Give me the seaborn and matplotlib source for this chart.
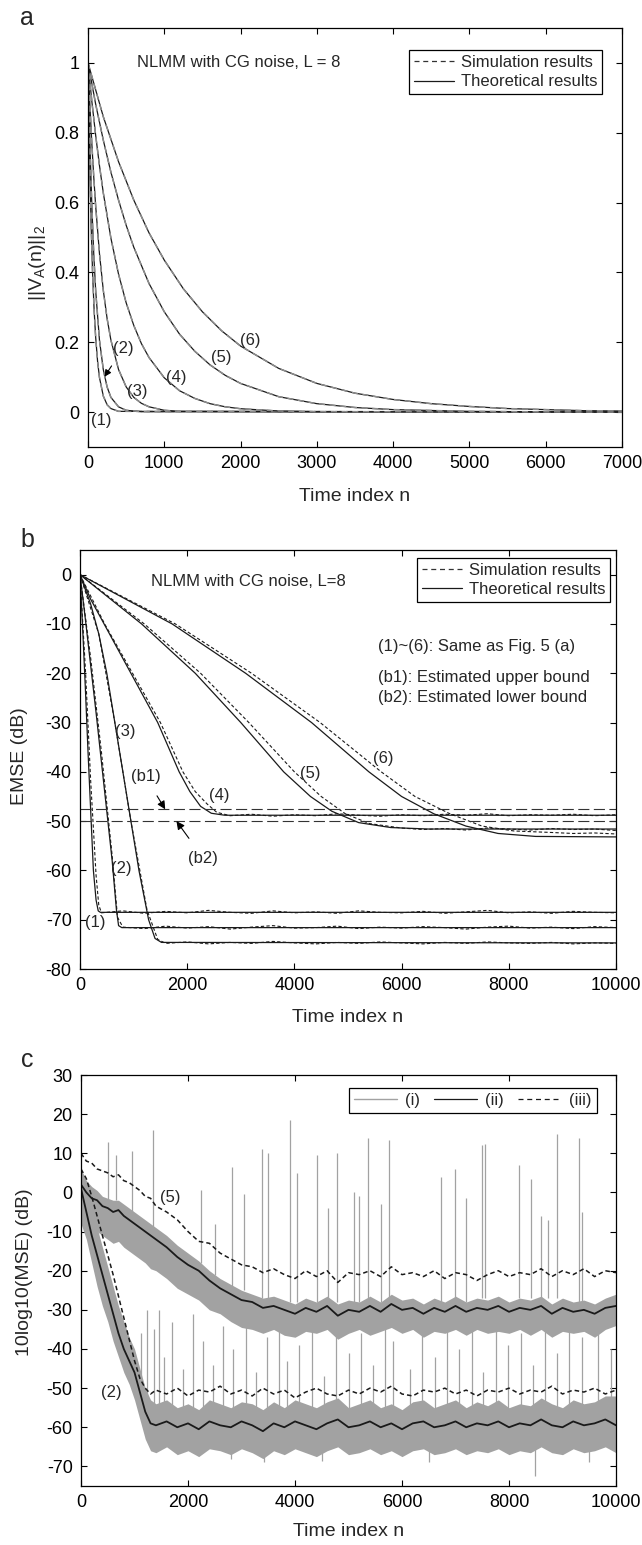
import matplotlib
matplotlib.use("Agg")
import matplotlib.pyplot as plt
from matplotlib.lines import Line2D
import seaborn as sns

sns.set_style("ticks")
plt.rcParams['font.family'] = ['Liberation Sans', 'DejaVu Sans']
plt.rcParams['axes.unicode_minus'] = False
plt.rcParams['mathtext.default'] = 'regular'

# ---------------- panel a: ||V_A(n)||_2, curves (1)..(6) ----------------
n_a1 = [0, 20, 40, 60, 80, 100, 125, 150, 200, 250, 300, 400, 7000]
v_a1 = [1.0, 0.735, 0.54, 0.397, 0.292, 0.215, 0.146, 0.099, 0.046, 0.021, 0.01, 0.002, 0.0]
n_a2 = [0, 25, 50, 75, 100, 150, 200, 250, 300, 400, 500, 700, 7000]
v_a2 = [1.0, 0.769, 0.591, 0.454, 0.349, 0.206, 0.122, 0.072, 0.042, 0.015, 0.005, 0.001, 0.0]
n_a3 = [0, 25, 50, 75, 100, 150, 200, 250, 300, 400, 500, 600, 700, 800, 1000, 1200, 7000]
v_a3 = [1.0, 0.877, 0.769, 0.674, 0.591, 0.454, 0.349, 0.268, 0.206, 0.122, 0.072, 0.042,
        0.025, 0.015, 0.005, 0.002, 0.0]
n_a4 = [0, 50, 100, 150, 200, 300, 400, 500, 600, 700, 800, 1000, 1200, 1400, 1600, 1800,
        2000, 2500, 3000, 7000]
v_a4 = [1.0, 0.89, 0.793, 0.706, 0.628, 0.498, 0.395, 0.313, 0.248, 0.196, 0.156, 0.098,
        0.061, 0.039, 0.024, 0.015, 0.0095, 0.003, 0.001, 0.0]
n_a5 = [0, 100, 200, 300, 400, 500, 600, 800, 1000, 1200, 1400, 1600, 1800, 2000, 2500,
        3000, 3500, 4000, 5000, 6000, 7000]
v_a5 = [1.0, 0.882, 0.779, 0.687, 0.607, 0.535, 0.472, 0.368, 0.287, 0.223, 0.174, 0.135,
        0.105, 0.082, 0.044, 0.024, 0.013, 0.007, 0.002, 0.0006, 0.0]
n_a6 = [0, 200, 400, 600, 800, 1000, 1250, 1500, 1750, 2000, 2500, 3000, 3500, 4000, 4500,
        5000, 5500, 6000, 6500, 7000]
v_a6 = [1.0, 0.846, 0.717, 0.607, 0.513, 0.435, 0.353, 0.287, 0.233, 0.189, 0.125, 0.082,
        0.054, 0.036, 0.024, 0.016, 0.01, 0.007, 0.004, 0.003]

# ---------------- panel b: EMSE (dB) ----------------
th_b_n = [
    [0, 50, 100, 150, 200, 250, 300, 340, 380, 10000],
    [0, 100, 200, 300, 400, 500, 600, 680, 720, 780, 10000],
    [0, 200, 350, 500, 650, 800, 950, 1100, 1280, 1400, 1520, 10000],
    [0, 200, 450, 950, 1450, 1850, 2050, 2250, 2450, 2700, 10000],
    [0, 1150, 2150, 3000, 3800, 4300, 4700, 5200, 5800, 6500, 10000],
    [0, 1720, 3090, 4320, 5390, 6000, 6600, 7200, 7800, 8500, 10000],
]
th_b_v = [
    [0, -11, -23, -36, -48, -60, -66, -68.2, -68.5, -68.5],
    [0, -9, -18.5, -28, -38, -48, -58, -68, -71.2, -71.6, -71.6],
    [0, -6, -12, -20, -30, -40, -50, -60, -70, -73.8, -74.6, -74.7],
    [0, -5, -10, -20, -30, -40, -44, -47, -48.4, -48.8, -48.8],
    [0, -10, -20, -30, -40, -45, -48, -50.3, -51.3, -51.6, -51.6],
    [0, -10, -20, -30, -40, -45, -48.5, -51, -52.5, -53.1, -53.2],
]
floor_n = list(range(400, 10001, 400))
sim_b_ramp_n = [
    [0, 100, 200, 300, 350],
    [0, 200, 400, 600, 700],
    [0, 350, 650, 950, 1250, 1450],
    [0, 460, 980, 1500, 1920, 2150, 2370, 2550],
    [0, 1200, 2250, 3150, 4000, 4500, 4950, 5400],
    [0, 1780, 3200, 4480, 5620, 6250, 6900, 7500, 8100],
]
sim_b_ramp_v = [
    [0, -19, -42, -61, -67],
    [0, -17, -36, -57, -69.5],
    [0, -12, -30, -50, -68, -74],
    [0, -10, -20, -30, -40, -44, -46.5, -48.2],
    [0, -10, -20, -30, -40, -45, -48.5, -50.5],
    [0, -10, -20, -30, -40, -45, -48.5, -51, -52],
]
sim_b_floor_start = [0, 1, 3, 6, 14, 21]   # index into floor_n
sim_b_floor_v = [
    [-68.6, -68.2, -68.7, -68.3, -68.6, -68.1, -68.5, -68.7, -68.2, -68.6, -68.4, -68.7, -68.2,
     -68.5, -68.6, -68.3, -68.7, -68.4, -68.1, -68.6, -68.4, -68.7, -68.3, -68.5, -68.6],
    [-71.5, -71.8, -71.3, -71.7, -71.4, -71.9, -71.5, -71.2, -71.7, -71.6, -71.3, -71.8,
     -71.5, -71.7, -71.4, -71.6, -71.9, -71.5, -71.3, -71.7, -71.5, -71.8, -71.4, -71.6],
    [-74.8, -74.5, -74.9, -74.6, -74.8, -74.4, -74.7, -74.9, -74.6, -74.8, -74.5, -74.7,
     -74.9, -74.6, -74.8, -74.5, -74.7, -74.8, -74.6, -74.9, -74.7, -74.8],
    [-48.9, -48.6, -49.0, -48.7, -48.9, -48.5, -48.8, -49.0, -48.7, -48.9, -48.6, -48.8,
     -48.5, -48.9, -48.7, -48.8, -48.6, -48.9, -48.7],
    [-51.4, -51.7, -51.5, -51.8, -51.4, -51.6, -51.8, -51.5, -51.7, -51.6, -51.9],
    [-52.3, -52.5, -52.4, -52.6],
]
b1_level = -47.6
b2_level = -50.0

# ---------------- panel c: 10log10(MSE) (dB) ----------------
n_c = list(range(0, 1401, 100)) + list(range(1600, 10001, 200))
c5_iii = [10, 8, 7.5, 6, 5.5, 5, 4, 4.5, 3, 2.5, 1.5, 0.5, -1, -1.5, -3.5,
          -5, -7, -10, -12.5, -13, -15.5, -17, -18.5, -19, -20.5,
          -19.5, -21, -22, -20, -21.5, -20, -23, -20.5, -21, -20,
          -21.5, -19, -21, -20.5, -21.5, -20, -22, -20.5, -21, -22.5,
          -21, -20, -21.5, -20.5, -21, -19.5, -21.5, -20, -21, -19.5,
          -21.5, -20, -20.5]
c5_ii = [2, 0, -1.5, -2, -3.5, -4, -5, -4.5, -6, -7, -8, -9, -10, -11, -12,
         -14, -16.5, -18.5, -20, -22.5, -24.5, -26, -27.5, -28, -29.5,
         -29, -30, -31, -29.5, -30.5, -29, -31.5, -30, -30.5, -29,
         -30.5, -28.5, -30, -29.5, -31, -29.5, -30.5, -29, -30.5, -29.5,
         -30, -29, -30.5, -29.5, -30, -29, -31, -29.5, -30.5, -30,
         -31, -29.5, -29]
c5_i_lo = [-6, -8, -9, -10, -11, -12, -13, -12.5, -14, -15, -16, -17, -18, -19.5, -20,
           -22, -24.5, -26, -27.5, -30, -31, -33, -34.5, -35, -36,
           -35, -36.5, -37, -35.5, -36, -35, -37.5, -36, -35, -36.5,
           -35.5, -34.5, -36, -35, -37, -35.5, -36, -35, -36.5, -35,
           -36, -35.5, -36, -35, -36.5, -35, -37, -35.5, -36, -35.5,
           -37, -35, -34]
c5_i_hi = [6, 3, 1.5, 0.5, -1, -1.5, -2, -2, -3, -4, -5, -6, -7, -8, -9,
           -11, -13.5, -15.5, -17.5, -20, -22, -23.5, -25, -26, -27,
           -26.5, -27.5, -28.5, -27, -28, -26.5, -28.5, -27.5, -28, -26.5,
           -28, -26, -27.5, -27, -28.5, -27, -28, -26.5, -28, -27,
           -27.5, -26.5, -28, -27, -27.5, -26.5, -28.5, -27, -28, -27.5,
           -28.5, -27, -26]
c2_iii = [6, 3.5, -1, -6, -11, -16, -21, -26.5, -32, -37.5, -43, -47.5, -50, -51.5, -50.5,
          -51.5, -50, -52, -50.5, -51, -49.5, -51.5, -50.5, -52, -50,
          -51.5, -50.5, -52.5, -51, -50, -51.5, -52, -50.5, -51.5, -50,
          -51, -49.5, -51.5, -52, -50.5, -51, -50, -51.5, -50.5, -52,
          -50.5, -51, -50, -51.5, -50.5, -51, -49.5, -51.5, -50.5, -51,
          -50, -51.5, -50.5]
c2_ii = [1, -5, -11, -16, -21, -26, -31, -36, -40, -43, -46, -51, -56, -59, -59.5,
         -58.5, -60, -59, -60.5, -58.5, -59.5, -60, -58.5, -59.5, -61,
         -59, -60, -58.5, -59.5, -60.5, -59, -58, -60, -59.5, -58.5,
         -60, -59, -60.5, -59, -58.5, -60, -59.5, -58.5, -60, -59,
         -59.5, -58.5, -60, -59, -59.5, -58, -59.5, -60, -58.5, -59.5,
         -59, -58, -59.5]
c2_i_lo = [-8, -12, -18, -24, -29, -33, -38, -42, -46, -49, -53, -58, -63, -66, -66.5,
           -65, -67, -66, -67.5, -65.5, -66, -67, -65.5, -66.5, -68,
           -66, -67, -65.5, -66.5, -67.5, -66, -65, -67, -66.5, -65.5,
           -67, -66, -67.5, -66, -65.5, -67, -66.5, -65.5, -67, -66,
           -66.5, -65.5, -67, -66, -66.5, -65, -66.5, -67, -65.5, -66.5,
           -66, -65, -66.5]
c2_i_hi = [4, 1, -4, -9, -14, -19, -24, -29, -33, -37, -40, -45, -50, -53, -54,
           -53, -55, -54, -55.5, -53, -54, -55, -53.5, -54, -55.5,
           -53.5, -55, -53, -54, -55, -53.5, -52.5, -55, -54, -53,
           -55, -54, -55.5, -53.5, -53, -55, -54, -53, -55, -53.5,
           -54.5, -53, -55, -54, -54.5, -52.5, -54, -55, -53, -54,
           -53.5, -52, -52]
# outlier spikes of curve (i)
sp5_n = [500, 650, 950, 1340, 2240, 2500, 2820, 3050, 3390, 3500, 3910, 4040, 4420, 4610,
         4780, 5110, 5200, 5370, 5610, 5760, 6720, 6990, 7200, 7490, 7550, 8190, 8420, 8600,
         8720, 8900, 9310, 9360]
sp5_top = [13, 9.5, 10.5, 16, 0.5, -8, 6.5, -0.5, 11, 10, 18.5, 5, 9.5, -4,
           10, 0, -1, 14, -3, 13.5, 4, 6, -1.5, 12, 12.5, 7, 3.5, -6,
           -7, 15, 14, -5]
sp5_bot = [-2, -2, -5, -9, -18, -21, -24, -25, -27, -27, -28, -28, -28, -27,
           -28, -28, -28, -27, -28, -27, -28, -27, -28, -27, -27, -27, -27, -27,
           -27, -27, -28, -28]
sp2_n = [1130, 1240, 1360, 1460, 1550, 1700, 1900, 2090, 2280, 2470, 2660, 2850, 3080, 3270,
         3470, 3700, 3850, 4080, 4310, 4540, 4770, 5000, 5230, 5460, 5690, 5840, 6150, 6380,
         6610, 6840, 7070, 7300, 7520, 7760, 7990, 8220, 8450, 8670, 8900, 9130, 9360, 9670,
         9900]
sp2_top = [-36, -30, -35, -30, -42, -33, -45, -31, -38, -44,
           -34, -40, -30, -46, -37, -32, -43, -39, -35, -47,
           -31, -41, -36, -44, -33, -38, -45, -30, -42, -35,
           -40, -33, -46, -31, -39, -36, -44, -32, -41, -30,
           -37, -35, -40]
sp2_base = -55
dn_n = [2800, 3420, 4500, 6500, 8480, 9500]
dn_bot = [-68, -69, -68.5, -69, -72.5, -69]
dn_base = -64

BLACK = '#1a1a1a'
GRAY = '#a2a2a2'

fig = plt.figure(figsize=(6.42, 15.45), dpi=100)
ax_a = fig.add_axes([0.1371, 0.7107, 0.8318, 0.2712])
ax_b = fig.add_axes([0.1246, 0.3728, 0.8349, 0.2712])
ax_c = fig.add_axes([0.1262, 0.0382, 0.8333, 0.2660])


def style(ax):
    ax.tick_params(direction='in', top=True, right=True, length=4, width=0.8,
                   labelsize=13, pad=6, colors='black')
    for s in ax.spines.values():
        s.set_linewidth(0.9)
        s.set_color('black')
        s.set_visible(True)


def line(ax, x, y, **kw):
    sns.lineplot(x=x, y=y, ax=ax, legend=False, **kw)


# ---- panel a ----
for n, v in zip([n_a1, n_a2, n_a3, n_a4, n_a5, n_a6], [v_a1, v_a2, v_a3, v_a4, v_a5, v_a6]):
    line(ax_a, n, v, color=BLACK, lw=0.9)
    line(ax_a, n, v, color='#8c8c8c', lw=1.1, dashes=(4, 3))
ax_a.set_xlim(0, 7000)
ax_a.set_ylim(-0.1, 1.1)
ax_a.set_xticks(range(0, 7001, 1000))
ax_a.set_yticks([0, 0.2, 0.4, 0.6, 0.8, 1.0])
ax_a.set_yticklabels(['0', '0.2', '0.4', '0.6', '0.8', '1'])
style(ax_a)
ax_a.set_xlabel('Time index n', fontsize=14, va='center')
ax_a.xaxis.set_label_coords(0.5, -0.119)
ax_a.set_ylabel(r'||V$_A$(n)||$_2$', fontsize=14, va='center')
ax_a.yaxis.set_label_coords(-0.0955, 0.44)
ax_a.text(640, 1.0, 'NLMM with CG noise, L = 8', fontsize=12, va='center')
for lab, x, y in [('(1)', 178, -0.025), ('(3)', 640, 0.058), ('(4)', 1160, 0.1),
                  ('(5)', 1745, 0.155), ('(6)', 2130, 0.205)]:
    ax_a.text(x, y, lab, fontsize=12, ha='center', va='center')
ax_a.annotate('(2)', xy=(216, 0.101), xytext=(460, 0.183), fontsize=12,
              ha='center', va='center',
              arrowprops=dict(arrowstyle='-|>', color='black', lw=0.8,
                              mutation_scale=10, shrinkA=6, shrinkB=0))
h_a = [Line2D([], [], color='#333333', lw=0.9, dashes=(4, 3)),
       Line2D([], [], color=BLACK, lw=0.9)]
leg = ax_a.legend(h_a, ['Simulation results', 'Theoretical results'], loc='upper right',
                  bbox_to_anchor=(0.9625, 0.947), borderaxespad=0, fontsize=12,
                  frameon=True, fancybox=False, edgecolor='black', framealpha=1,
                  handlelength=2.4, handletextpad=0.4, borderpad=0.3, labelspacing=0.25)
leg.get_frame().set_linewidth(0.9)

# ---- panel b ----
for k in range(6):
    line(ax_b, th_b_n[k], th_b_v[k], color=BLACK, lw=0.9)
    fn = floor_n[sim_b_floor_start[k]:]
    line(ax_b, sim_b_ramp_n[k] + fn, sim_b_ramp_v[k] + sim_b_floor_v[k],
         color=BLACK, lw=0.8, dashes=(3, 2))
ax_b.axhline(b1_level, color='#333333', lw=0.8, dashes=(10, 4))
ax_b.axhline(b2_level, color='#333333', lw=0.8, dashes=(10, 4))
ax_b.set_xlim(0, 10000)
ax_b.set_ylim(-80, 5)
ax_b.set_xticks(range(0, 10001, 2000))
ax_b.set_yticks(range(-80, 1, 10))
style(ax_b)
ax_b.set_xlabel('Time index n', fontsize=14, va='center')
ax_b.xaxis.set_label_coords(0.5, -0.1146)
ax_b.set_ylabel('EMSE (dB)', fontsize=14, va='center')
ax_b.yaxis.set_label_coords(-0.113, 0.507)
ax_b.text(1330, -1.4, 'NLMM with CG noise, L=8', fontsize=12, va='center')
ax_b.text(5560, -14.6, '(1)~(6): Same as Fig. 5 (a)', fontsize=12, va='center')
ax_b.text(5560, -20.9, '(b1): Estimated upper bound', fontsize=12, va='center')
ax_b.text(5560, -25.0, '(b2): Estimated lower bound', fontsize=12, va='center')
for lab, x, y in [('(1)', 280, -70.6), ('(2)', 780, -59.6), ('(3)', 840, -31.8),
                  ('(4)', 2600, -44.7), ('(5)', 4290, -40.3), ('(6)', 5650, -37.2)]:
    ax_b.text(x, y, lab, fontsize=12, ha='center', va='center')
ax_b.annotate('(b1)', xy=(1590, b1_level), xytext=(1220, -41.0), fontsize=12,
              ha='center', va='center',
              arrowprops=dict(arrowstyle='-|>', color='black', lw=0.8,
                              mutation_scale=12, shrinkA=7, shrinkB=0))
ax_b.annotate('(b2)', xy=(1800, b2_level), xytext=(2300, -57.5), fontsize=12,
              ha='center', va='center',
              arrowprops=dict(arrowstyle='-|>', color='black', lw=0.8,
                              mutation_scale=12, shrinkA=8, shrinkB=0))
leg = ax_b.legend(h_a, ['Simulation results', 'Theoretical results'], loc='upper right',
                  bbox_to_anchor=(0.989, 0.981), borderaxespad=0, fontsize=12,
                  frameon=True, fancybox=False, edgecolor='black', framealpha=1,
                  handlelength=2.4, handletextpad=0.4, borderpad=0.3, labelspacing=0.25)
leg.get_frame().set_linewidth(0.9)

# ---- panel c ----
ax_c.fill_between(n_c, c5_i_lo, c5_i_hi, color=GRAY, lw=0)
ax_c.fill_between(n_c, c2_i_lo, c2_i_hi, color=GRAY, lw=0)
ax_c.vlines(sp5_n, sp5_bot, sp5_top, color=GRAY, lw=0.9)
ax_c.vlines(sp2_n, sp2_base, sp2_top, color=GRAY, lw=0.9)
ax_c.vlines(dn_n, dn_bot, dn_base, color=GRAY, lw=0.9)
line(ax_c, n_c, c5_ii, color=BLACK, lw=1.3)
line(ax_c, n_c, c2_ii, color=BLACK, lw=1.3)
line(ax_c, n_c, c5_iii, color=BLACK, lw=1.1, dashes=(3, 2))
line(ax_c, n_c, c2_iii, color=BLACK, lw=1.1, dashes=(3, 2))
ax_c.set_xlim(0, 10000)
ax_c.set_ylim(-75, 30)
ax_c.set_xticks(range(0, 10001, 2000))
ax_c.set_yticks(range(-70, 31, 10))
style(ax_c)
ax_c.set_xlabel('Time index n', fontsize=14, va='center')
ax_c.xaxis.set_label_coords(0.5, -0.111)
ax_c.set_ylabel('10log10(MSE) (dB)', fontsize=14, va='center')
ax_c.yaxis.set_label_coords(-0.105, 0.52)
ax_c.text(1665, -1.2, '(5)', fontsize=12, ha='center', va='center')
ax_c.text(570, -51.1, '(2)', fontsize=12, ha='center', va='center')
h_c = [Line2D([], [], color=GRAY, lw=1.0),
       Line2D([], [], color=BLACK, lw=0.9),
       Line2D([], [], color=BLACK, lw=0.9, dashes=(4, 3))]
leg = ax_c.legend(h_c, ['(i)', '(ii)', '(iii)'], loc='upper right', ncol=3,
                  bbox_to_anchor=(0.964, 0.968), borderaxespad=0, fontsize=12,
                  frameon=True, fancybox=False, edgecolor='black', framealpha=1,
                  handlelength=2.6, handletextpad=0.5, columnspacing=0.8, borderpad=0.3)
leg.get_frame().set_linewidth(0.9)

for lab, y in [('a', 0.9883), ('b', 0.6505), ('c', 0.3139)]:
    fig.text(0.042, y, lab, fontsize=18, ha='center', va='center')

fig.savefig('out.png', dpi=100)
